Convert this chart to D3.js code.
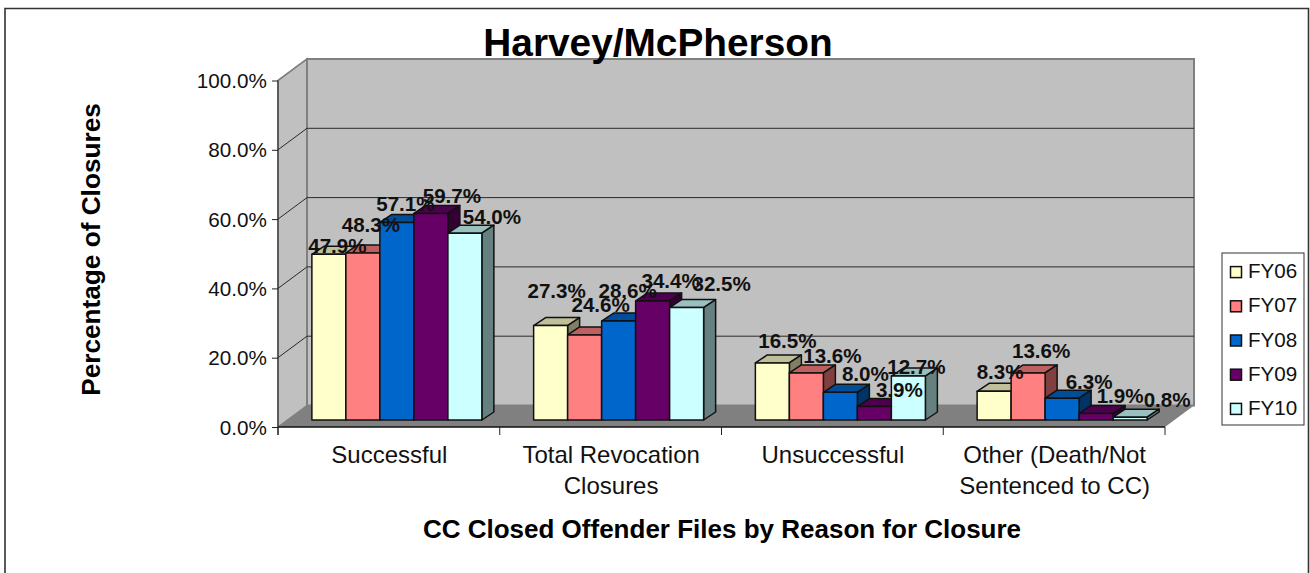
<!DOCTYPE html>
<html>
<head>
<meta charset="utf-8">
<script src="https://cdnjs.cloudflare.com/ajax/libs/d3/7.8.5/d3.min.js"></script>
<style>
html,body{margin:0;padding:0;background:#fff;overflow:hidden}
svg{display:block;font-family:"Liberation Sans",Arial,sans-serif}
</style>
</head>
<body>
<svg id="chart" width="1310" height="573"></svg>
<script>
const categories = ["Successful", "Total Revocation Closures", "Unsuccessful", "Other (Death/Not Sentenced to CC)"];
const categoryLines = [["Successful"], ["Total Revocation", "Closures"], ["Unsuccessful"], ["Other (Death/Not", "Sentenced to CC)"]];
const seriesNames = ["FY06", "FY07", "FY08", "FY09", "FY10"];
const fy06 = [47.9, 27.3, 16.5, 8.3];
const fy07 = [48.3, 24.6, 13.6, 13.6];
const fy08 = [57.1, 28.6, 8.0, 6.3];
const fy09 = [59.7, 34.4, 3.9, 1.9];
const fy10 = [54.0, 32.5, 12.7, 0.8];
const seriesValues = [fy06, fy07, fy08, fy09, fy10];
const seriesColors = ["#FFFFCC", "#FF8080", "#0066CC", "#660066", "#CCFFFF"];
const yTicks = [0, 20, 40, 60, 80, 100];

// hand-placed label nudges of the original, per series then category
const labelDx = [[8.5, 6, 15, 6], [8, 16, 26, 13], [8.5, 9, 25, 27], [21, 18, 25, 24], [27, 35, 8, 37]];
const labelDy = [[-1, -28, -15, -12], [-21, -23, -10, -15], [-11, -23, -11, -9], [-10, -13, -10, -10], [-9, -17, -2, -10]];

const svg = d3.select("#chart");
const ink = "#111";
const depthX = 29, depthY = -21.5;
const barDX = 12, barDY = -8;
const x0 = 278, x1 = 1165;
const fmt = d => d.toFixed(1) + "%";

const xBand = d3.scaleBand().domain(categories).range([x0, x1]);
const barSpan = 170;
const xInner = d3.scaleBand().domain(seriesNames).range([0, barSpan]);
const yFront = d3.scaleLinear().domain([0, 100]).range([427, 80.5]);
const yBar = d3.scaleLinear().domain([0, 100]).range([420, 74]);

// outer frame
svg.append("path").attr("d", "M5,573V8.5H1308.5V573").attr("fill", "none").attr("stroke", "#333").attr("stroke-width", 1.6);

// walls and floor
const yB = v => yFront(v) + depthY;
const poly = pts => "M" + pts.map(p => p.join(",")).join("L") + "Z";
svg.append("path").attr("d", poly([[x0, yFront(0)], [x0 + depthX, yB(0)], [x0 + depthX, yB(100)], [x0, yFront(100)]])).attr("fill", "#C0C0C0").attr("stroke", "#808080").attr("stroke-width", 1.5);
svg.append("path").attr("d", poly([[x0 + depthX, yB(0)], [x1 + depthX, yB(0)], [x1 + depthX, yB(100)], [x0 + depthX, yB(100)]])).attr("fill", "#C0C0C0").attr("stroke", "#808080").attr("stroke-width", 2);
svg.append("path").attr("d", poly([[x0, yFront(0)], [x0 + depthX, yB(0)], [x1 + depthX, yB(0)], [x1, yFront(0)]])).attr("fill", "#808080");

// gridlines
svg.append("g").selectAll("path").data(yTicks.filter(t => t > 0 && t < 100)).join("path")
  .attr("d", t => `M${x0},${yFront(t)}L${x0 + depthX},${yB(t)}H${x1 + depthX}`)
  .attr("fill", "none").attr("stroke", "#2a2a2a").attr("stroke-width", 1);
svg.append("path").attr("d", `M${x0},${yFront(100)}L${x0 + depthX},${yB(100)}`).attr("stroke", "#808080").attr("stroke-width", 1.5);

// bars
const shade = (c, k) => { const r = d3.rgb(c); return d3.rgb(r.r * k, r.g * k, r.b * k).formatHex(); };
const flat = [];
categories.forEach((c, ci) => seriesNames.forEach((s, si) => flat.push({c, ci, s, si, v: seriesValues[si][ci]})));
const barLeft = d => xBand(d.c) + (xBand.bandwidth() - barSpan) / 2 + 8 + xInner(d.s);
const bars = svg.append("g").selectAll("g").data(flat).join("g")
  .attr("stroke", "#111").attr("stroke-width", 1.5).attr("stroke-linejoin", "round");
bars.append("path").attr("d", d => {
  const l = barLeft(d), r = l + xInner.bandwidth(), t = yBar(d.v);
  return poly([[l, t], [l + barDX, t + barDY], [r + barDX, t + barDY], [r, t]]);
}).attr("fill", d => shade(seriesColors[d.si], 0.75));
bars.append("path").attr("d", d => {
  const r = barLeft(d) + xInner.bandwidth(), t = yBar(d.v), b = yBar(0);
  return poly([[r, t], [r + barDX, t + barDY], [r + barDX, b + barDY], [r, b]]);
}).attr("fill", d => shade(seriesColors[d.si], 0.5));
bars.append("rect")
  .attr("x", barLeft).attr("y", d => yBar(d.v))
  .attr("width", xInner.bandwidth()).attr("height", d => yBar(0) - yBar(d.v))
  .attr("fill", d => seriesColors[d.si]);

// axes
const yAxis = d3.axisLeft(yFront).tickValues(yTicks).tickFormat(fmt).tickSize(6).tickPadding(5);
const gy = svg.append("g").attr("transform", `translate(${x0},0)`).call(yAxis);
gy.select(".domain").attr("stroke", "#333").attr("stroke-width", 1.2).attr("d", `M0,${yFront(100)}V435`);
gy.selectAll(".tick line").attr("stroke", "#222");
gy.selectAll("text").attr("font-size", 20.7).attr("font-family", "Liberation Sans").attr("fill", ink).attr("dy", "7");

const xAxis = d3.axisBottom(xBand).tickValues([]).tickSize(0);
const gx = svg.append("g").attr("transform", `translate(0,${yFront(0)})`).call(xAxis);
gx.select(".domain").attr("stroke", "#111").attr("stroke-width", 1.6).attr("d", `M${x0},0H${x1}`);
svg.append("g").selectAll("line").data(categories.concat("end")).join("line")
  .attr("x1", (d, i) => i < 4 ? xBand(d) : x1).attr("x2", (d, i) => i < 4 ? xBand(d) : x1)
  .attr("y1", yFront(0)).attr("y2", yFront(0) + 8).attr("stroke", "#222");

// category labels
svg.append("g").selectAll("text").data(categories).join("text")
  .attr("text-anchor", "middle").attr("font-size", 24).attr("fill", ink)
  .each(function (d, i) {
    d3.select(this).selectAll("tspan").data(categoryLines[i]).join("tspan")
      .attr("x", xBand(d) + xBand.bandwidth() / 2 + 0.5)
      .attr("y", (l, j) => 463 + j * 30.5).text(l => l);
  });

// data labels
svg.append("g").selectAll("text").data(flat).join("text")
  .attr("text-anchor", "middle").attr("font-size", 20.6).attr("font-weight", "bold").attr("fill", ink)
  .attr("x", d => barLeft(d) + xInner.bandwidth() / 2 + labelDx[d.si][d.ci])
  .attr("y", d => yBar(d.v) + labelDy[d.si][d.ci])
  .text(d => fmt(d.v));

// titles
svg.append("text").attr("x", 658).attr("y", 56).attr("text-anchor", "middle")
  .attr("font-size", 38.8).attr("font-weight", "bold").attr("fill", "#000").text("Harvey/McPherson");
svg.append("text").attr("x", 722).attr("y", 538).attr("text-anchor", "middle")
  .attr("font-size", 26).attr("font-weight", "bold").attr("fill", "#000").text("CC Closed Offender Files by Reason for Closure");
svg.append("text").attr("transform", "translate(100,249.5) rotate(-90)").attr("text-anchor", "middle")
  .attr("font-size", 26.2).attr("font-weight", "bold").attr("fill", "#000").text("Percentage of Closures");

// legend
const legY = d3.scaleBand().domain(seriesNames).range([255, 426]);
svg.append("rect").attr("x", 1222).attr("y", 253).attr("width", 82).attr("height", 172)
  .attr("fill", "#fff").attr("stroke", "#333").attr("stroke-width", 1);
const leg = svg.append("g").selectAll("g").data(seriesNames).join("g")
  .attr("transform", d => `translate(0,${legY(d) + legY.bandwidth() / 2})`);
leg.append("rect").attr("x", 1230.5).attr("y", -5.5).attr("width", 11).attr("height", 11)
  .attr("fill", (d, i) => seriesColors[i]).attr("stroke", "#111").attr("stroke-width", 1.5);
leg.append("text").attr("x", 1248).attr("y", 6).attr("font-size", 20.6).attr("fill", ink).text(d => d);
</script>
</body>
</html>
